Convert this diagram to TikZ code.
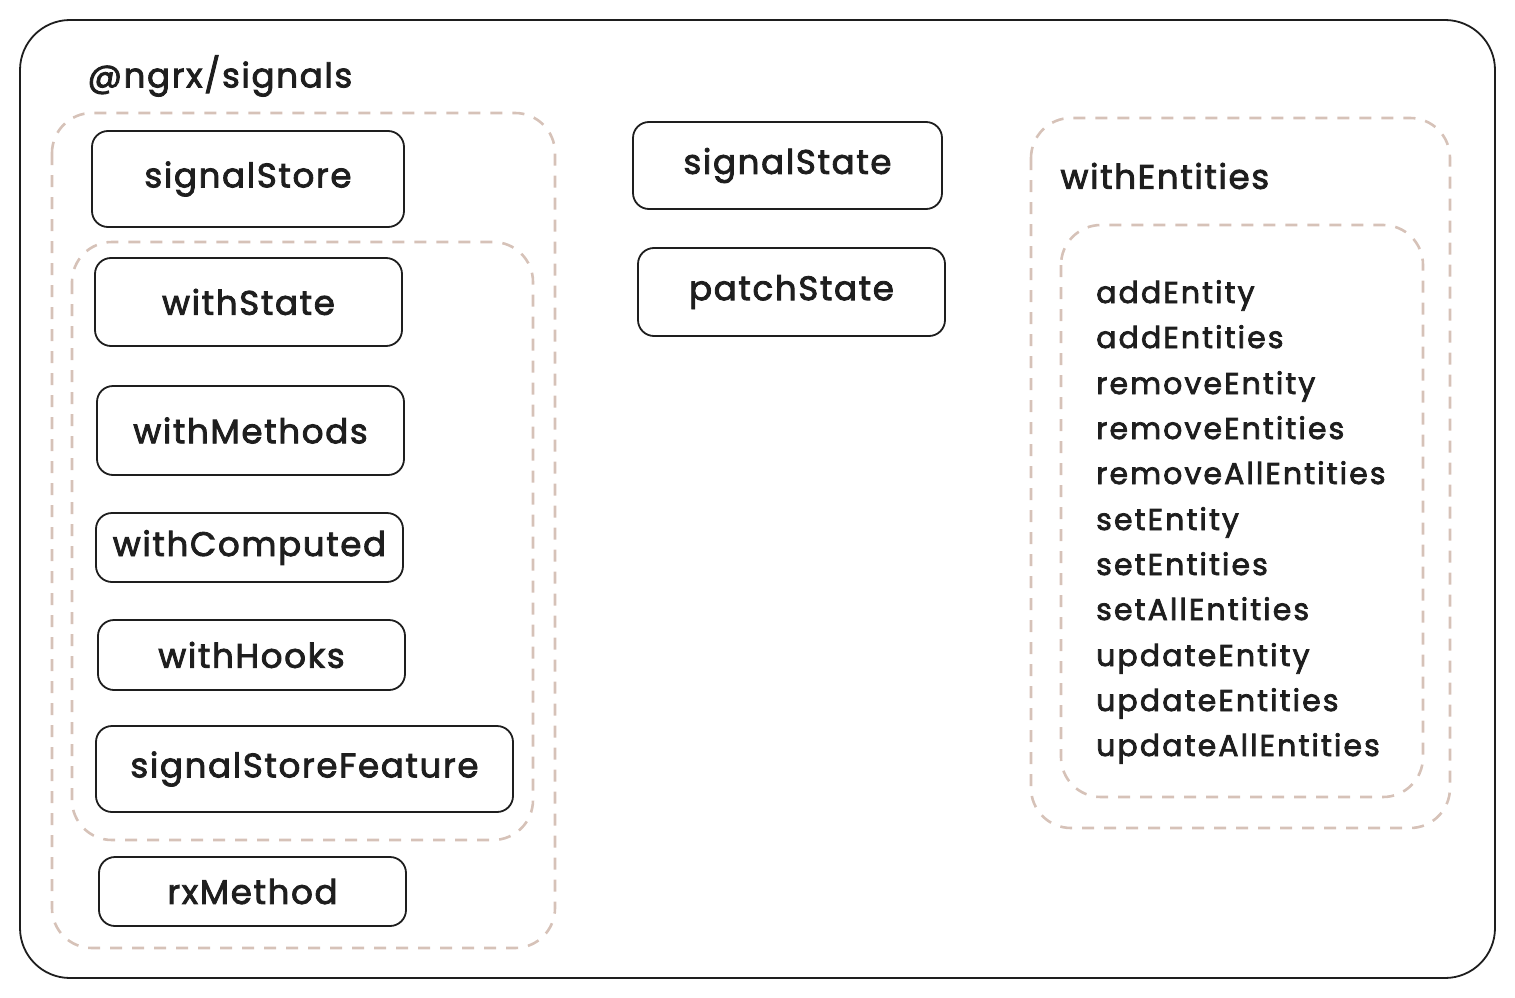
\documentclass[tikz,border=0pt]{standalone}
\usepackage{fontspec}
\setmainfont{Poppins}[FakeBold=2.5]
\definecolor{ink}{HTML}{1E1E1E}
\definecolor{dashc}{HTML}{D6C2B8}
\tikzset{
  box/.style={draw=ink, line width=1.8pt, rounded corners=16pt},
  dbox/.style={draw=dashc, line width=2.6pt, dash pattern=on 12pt off 10pt, rounded corners=40pt},
  lbl/.style={font=\fontsize{34}{40}\selectfont\addfontfeature{LetterSpace=5}, text=ink},
  item/.style={font=\fontsize{30}{36}\selectfont\addfontfeature{LetterSpace=7}, text=ink, anchor=base west, inner sep=0pt},
}
\begin{document}
\begin{tikzpicture}[x=1pt,y=-1pt]
\useasboundingbox (0,0) rectangle (1515,998);
\draw[draw=ink, line width=1.8pt, rounded corners=50pt] (20,20) rectangle (1495,978);
\node[lbl, anchor=west] (title) at (84,76) {@ngrx/signals};
% left dashed groups
\draw[dbox] (52,113) rectangle (555,948);
\draw[dbox] (72,242) rectangle (533,840);
\draw[box] (92,131) rectangle (404,227) node[midway, lbl] (signalStore) {signalStore};
\draw[box] (95,258) rectangle (402,346) node[midway, lbl] (withState) {withState};
\draw[box] (97,386) rectangle (404,475) node[midway, lbl] (withMethods) {withMethods};
\draw[box] (96,513) rectangle (403,582) node[midway, lbl] (withComputed) {withComputed};
\draw[box] (98,620) rectangle (405,690) node[midway, lbl] (withHooks) {withHooks};
\draw[box] (96,726) rectangle (513,812) node[midway, lbl] (signalStoreFeature) {signalStoreFeature};
\draw[box] (99,857) rectangle (406,926) node[midway, lbl] (rxMethod) {rxMethod};
% middle
\draw[box] (633,122) rectangle (942,209) node[midway, lbl] (signalState) {signalState};
\draw[box] (638,248) rectangle (945,336) node[midway, lbl] (patchState) {patchState};
% right
\draw[dbox] (1031,118) rectangle (1450,828);
\node[lbl, anchor=west] (withEntities) at (1057,176) {withEntities};
\draw[dbox] (1061,225) rectangle (1423,797);
\node[item] (i1) at (1096,303) {addEntity};
\node[item] (i2) at (1096,348) {addEntities};
\node[item] (i3) at (1096,394) {removeEntity};
\node[item] (i4) at (1096,439) {removeEntities};
\node[item] (i5) at (1096,484) {removeAllEntities};
\node[item] (i6) at (1096,530) {setEntity};
\node[item] (i7) at (1096,575) {setEntities};
\node[item] (i8) at (1096,620) {setAllEntities};
\node[item] (i9) at (1096,666) {updateEntity};
\node[item] (i10) at (1096,711) {updateEntities};
\node[item] (i11) at (1096,756) {updateAllEntities};
\end{tikzpicture}
\end{document}
